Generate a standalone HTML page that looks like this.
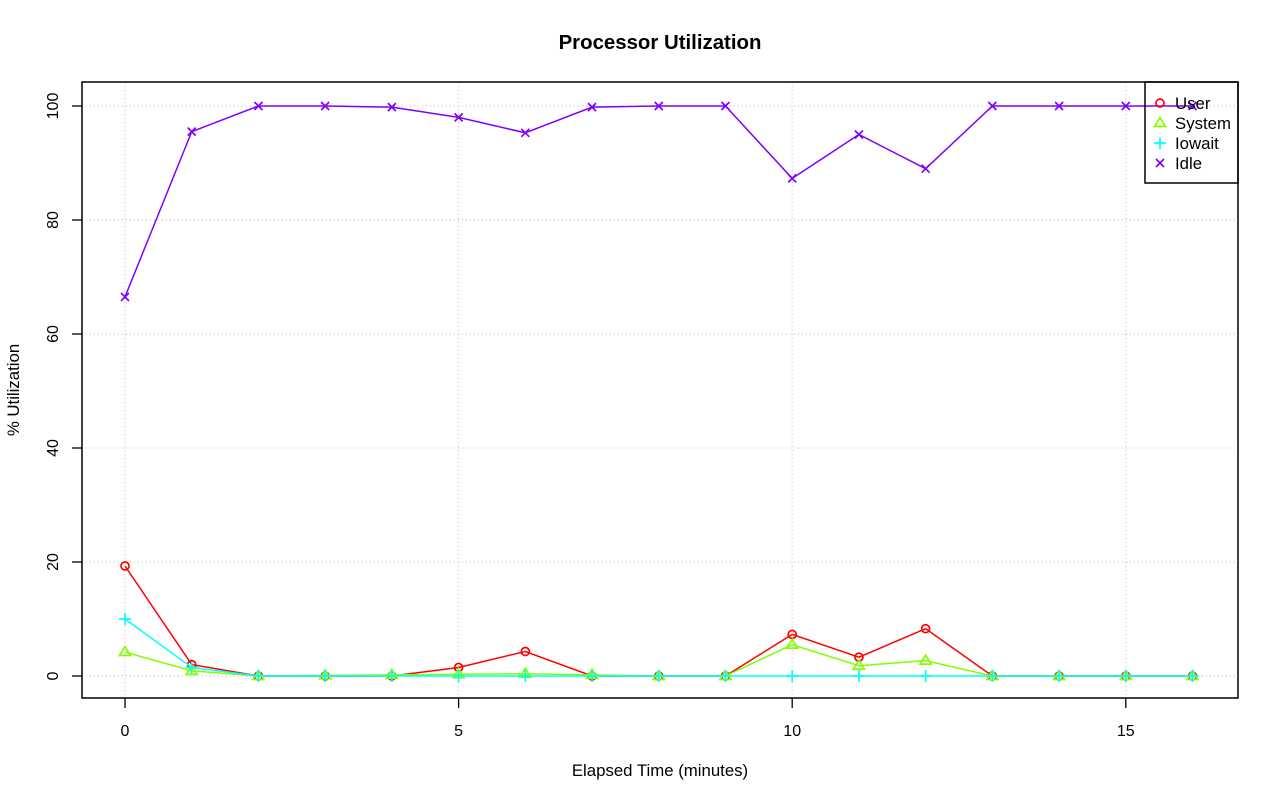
<!DOCTYPE html>
<html><head><style>body{margin:0;background:#fff}svg{display:block;font-family:"Liberation Sans",sans-serif}</style></head>
<body>
<svg id="s" width="1280" height="801" xmlns="http://www.w3.org/2000/svg">
<text x="660" y="49" text-anchor="middle" font-size="20.4" font-weight="bold">Processor Utilization</text>
<text x="660" y="776" text-anchor="middle" font-size="16.8">Elapsed Time (minutes)</text>
<text transform="translate(19,390) rotate(-90)" text-anchor="middle" font-size="16.8">% Utilization</text>
<g id="g"></g>
</svg>
<script>
const X=i=>125+i*66.72, Y=v=>676-v*5.7;
let h='';
for(let i=0;i<=15;i+=5){h+=`<line x1="${X(i)}" y1="82" x2="${X(i)}" y2="698" stroke="#bbb" stroke-dasharray="1,3"/>`;
h+=`<line x1="${X(i)}" y1="698" x2="${X(i)}" y2="708" stroke="#000" stroke-width="1.3"/><text x="${X(i)}" y="736" text-anchor="middle" font-size="16">${i}</text>`;}
for(let v=0;v<=100;v+=20){h+=`<line x1="82" y1="${Y(v)}" x2="1238" y2="${Y(v)}" stroke="#bbb" stroke-dasharray="1,3"/>`;
h+=`<line x1="72" y1="${Y(v)}" x2="82" y2="${Y(v)}" stroke="#000" stroke-width="1.3"/><text transform="translate(58,${Y(v)}) rotate(-90)" text-anchor="middle" font-size="16">${v}</text>`;}
h+=`<rect x="82" y="82" width="1156" height="616" fill="none" stroke="#000" stroke-width="1.5"/>`;
const S={
User:{c:'#ff0000',d:[19.3,2,0,0,0,1.5,4.3,0,0,0,7.3,3.3,8.3,0,0,0,0],m:'o'},
System:{c:'#80ff00',d:[4.2,0.9,0,0.1,0.2,0.3,0.4,0.2,0,0,5.5,1.8,2.7,0,0,0,0],m:'t'},
Iowait:{c:'#00ffff',d:[10,1.5,0,0,0,0,0,0,0,0,0,0,0,0,0,0,0],m:'p'},
Idle:{c:'#8000ff',d:[66.5,95.5,100,100,99.8,98,95.3,99.8,100,100,87.3,95,89,100,100,100,100],m:'x'}};
function mk(m,x,y,c){
if(m=='o')return `<circle cx="${x}" cy="${y}" r="4" fill="none" stroke="${c}" stroke-width="1.7"/>`;
if(m=='t')return `<polygon points="${x},${y-5.5} ${x-5.5},${y+3.5} ${x+5.5},${y+3.5}" fill="none" stroke="${c}" stroke-width="1.7"/>`;
if(m=='p')return `<path d="M${x-6},${y}H${x+6}M${x},${y-6}V${y+6}" stroke="${c}" stroke-width="1.7"/>`;
return `<path d="M${x-4},${y-4}L${x+4},${y+4}M${x-4},${y+4}L${x+4},${y-4}" stroke="${c}" stroke-width="1.7"/>`;}
for(const k in S){const s=S[k];
h+=`<polyline fill="none" stroke="${s.c}" stroke-width="1.5" points="${s.d.map((v,i)=>X(i)+','+Y(v)).join(' ')}"/>`;
s.d.forEach((v,i)=>h+=mk(s.m,X(i),Y(v),s.c));}
h+=`<rect x="1145" y="82" width="93" height="101" fill="none" stroke="#000" stroke-width="1.5"/>`;
Object.keys(S).forEach((k,j)=>{const y=103+j*20;h+=mk(S[k].m,1160,y,S[k].c)+`<text x="1175" y="${y+6}" font-size="16.8">${k}</text>`;});
document.getElementById('g').innerHTML=h;
</script>
</body></html>
